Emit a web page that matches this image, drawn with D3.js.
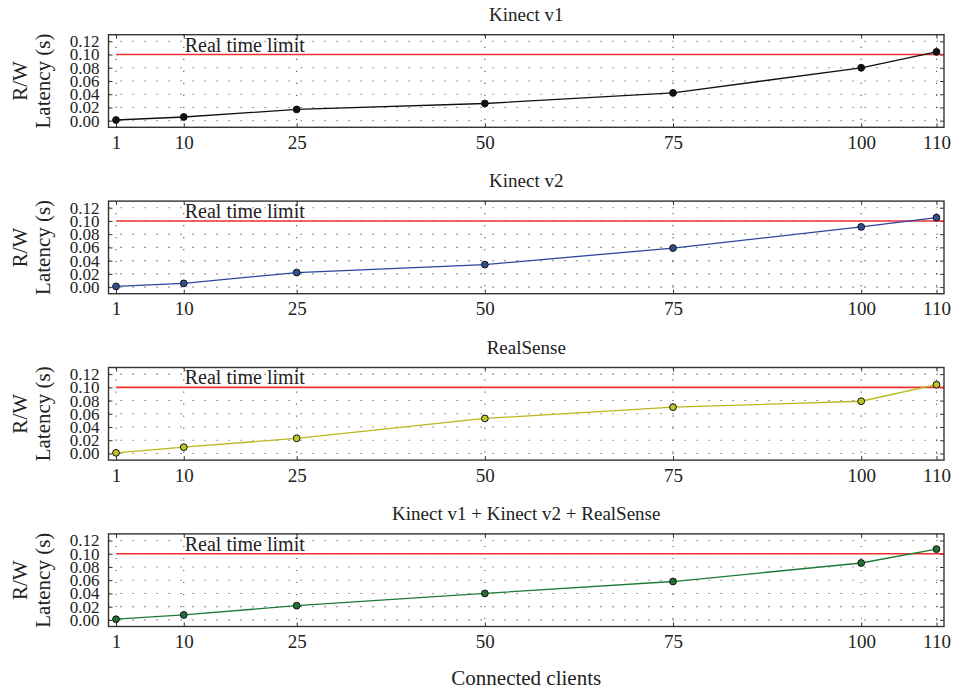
<!DOCTYPE html>
<html>
<head>
  <meta charset="utf-8">
  <script src="https://d3js.org/d3.v7.min.js"></script>
  <style>
    body { margin: 0; background: #fff; }
    svg text { font-family: "Liberation Serif", "DejaVu Serif", serif; fill: #222; }
  </style>
</head>
<body>
  <div id="chart"></div>

  <script>
    // Connected clients on the x axis
    const clients = [1, 10, 25, 50, 75, 100, 110];
    const yTicks = [0, 0.02, 0.04, 0.06, 0.08, 0.10, 0.12];

    // R/W latency (s) per sensor
    const kinectV1 = [0.001, 0.0056, 0.017, 0.026, 0.042, 0.080, 0.104];
    const kinectV2 = [0.001, 0.0056, 0.022, 0.034, 0.059, 0.091, 0.105];
    const realSense = [0.001, 0.0095, 0.023, 0.053, 0.070, 0.079, 0.104];
    const allSensors = [0.001, 0.0075, 0.0215, 0.040, 0.058, 0.086, 0.107];

    const titles = ["Kinect v1", "Kinect v2", "RealSense", "Kinect v1 + Kinect v2 + RealSense"];
    const realTimeLimit = 0.1;

    const series = [kinectV1, kinectV2, realSense, allSensors];
    const lineColors = ["#111111", "#2b45a0", "#b9b91c", "#1d7a34"];
    const dotColors = ["#111111", "#32508f", "#c4c42a", "#236f37"];

    const width = 955, height = 691;
    const left = 108.5, right = 944;
    const firstTop = 34.7, step = 166.4, boxH = 92.6;

    const svg = d3.select("#chart")
      .append("svg")
      .attr("width", width)
      .attr("height", height);

    const x = d3.scaleLinear().domain([0, 111]).range([left, right]);

    series.forEach((values, i) => {
      const top = firstTop + i * step;
      const y = d3.scaleLinear().domain([-0.01, 0.13]).range([top + boxH, top]);
      const g = svg.append("g");
      const data = clients.map((c, j) => ({ c, v: values[j] }));

      // dotted grid
      g.selectAll(".hgrid").data(yTicks).enter().append("line")
        .attr("x1", left).attr("x2", right)
        .attr("y1", d => y(d)).attr("y2", d => y(d))
        .attr("stroke", "#555").attr("stroke-width", 1.1)
        .attr("stroke-dasharray", "1.2 10.8");
      g.selectAll(".vgrid").data(clients).enter().append("line")
        .attr("x1", d => x(d)).attr("x2", d => x(d))
        .attr("y1", top).attr("y2", top + boxH)
        .attr("stroke", "#555").attr("stroke-width", 1.1)
        .attr("stroke-dasharray", "1.2 10.8");

      // inner tick marks on all four sides
      const tickLen = 4;
      g.append("g").attr("transform", `translate(0,${top + boxH})`)
        .call(d3.axisBottom(x).tickValues(clients).tickSize(-tickLen).tickFormat(""))
        .call(a => a.select(".domain").remove());
      g.append("g").attr("transform", `translate(0,${top})`)
        .call(d3.axisTop(x).tickValues(clients).tickSize(-tickLen).tickFormat(""))
        .call(a => a.select(".domain").remove());
      g.append("g").attr("transform", `translate(${left},0)`)
        .call(d3.axisLeft(y).tickValues(yTicks).tickSize(-tickLen).tickFormat(""))
        .call(a => a.select(".domain").remove());
      g.append("g").attr("transform", `translate(${right},0)`)
        .call(d3.axisRight(y).tickValues(yTicks).tickSize(-tickLen).tickFormat(""))
        .call(a => a.select(".domain").remove());
      g.selectAll(".tick line").attr("stroke", "#333");

      // tick labels
      const xAxis = g.append("g").attr("transform", `translate(0,${top + boxH})`)
        .call(d3.axisBottom(x).tickValues(clients).tickSize(0).tickPadding(8));
      xAxis.select(".domain").remove();
      xAxis.selectAll("text").style("font-size", "19px");

      const yAxis = g.append("g").attr("transform", `translate(${left},0)`)
        .call(d3.axisLeft(y).tickValues(yTicks).tickSize(0).tickPadding(9).tickFormat(d3.format(".2f")));
      yAxis.select(".domain").remove();
      yAxis.selectAll("text").style("font-size", "17px");

      // real time limit
      g.append("line")
        .attr("x1", x(1)).attr("x2", right)
        .attr("y1", y(realTimeLimit)).attr("y2", y(realTimeLimit))
        .attr("stroke", "#f03030").attr("stroke-width", 1.6);
      g.append("text")
        .attr("x", x(10) + 1).attr("y", y(realTimeLimit) - 3)
        .style("font-size", "20px")
        .text("Real time limit");

      // data line and markers
      const line = d3.line().x(d => x(d.c)).y(d => y(d.v));
      g.append("path").datum(data)
        .attr("d", line)
        .attr("fill", "none")
        .attr("stroke", lineColors[i])
        .attr("stroke-width", 1.3);
      g.selectAll(".dot").data(data).enter().append("circle")
        .attr("cx", d => x(d.c)).attr("cy", d => y(d.v))
        .attr("r", 3.4)
        .attr("fill", dotColors[i])
        .attr("stroke", "#111").attr("stroke-width", 1);

      // box
      g.append("rect")
        .attr("x", left).attr("y", top)
        .attr("width", right - left).attr("height", boxH)
        .attr("fill", "none").attr("stroke", "#333").attr("stroke-width", 1.4);

      // title and y label
      g.append("text")
        .attr("x", (left + right) / 2).attr("y", top - 14)
        .attr("text-anchor", "middle").style("font-size", "19px")
        .text(titles[i]);
      const yl = g.append("text")
        .attr("transform", `translate(0,${top + boxH / 2}) rotate(-90)`)
        .attr("text-anchor", "middle").style("font-size", "21px");
      yl.append("tspan").attr("x", 0).attr("y", 27).text("R/W");
      yl.append("tspan").attr("x", 0).attr("y", 50).text("Latency (s)");
    });

    svg.append("text")
      .attr("x", (left + right) / 2).attr("y", 685)
      .attr("text-anchor", "middle").style("font-size", "21px")
      .text("Connected clients");
  </script>
</body>
</html>
